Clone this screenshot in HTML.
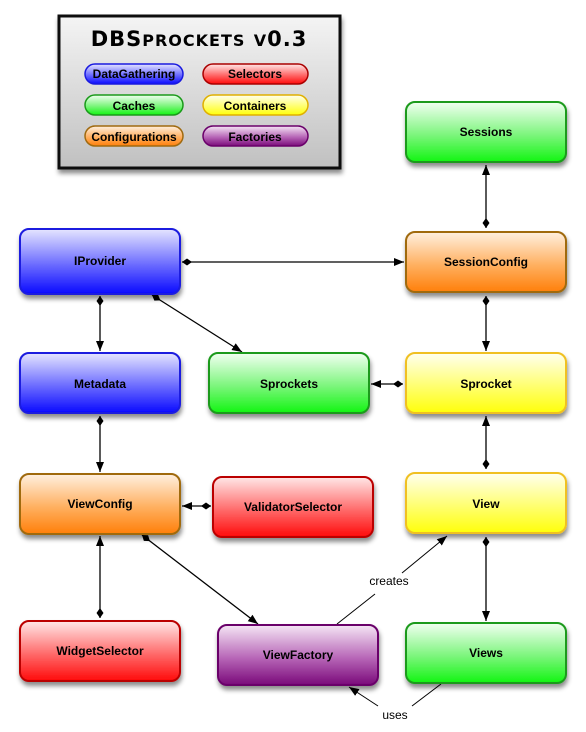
<!DOCTYPE html>
<html><head><meta charset="utf-8"><style>
html,body{margin:0;padding:0;background:#fff;}
svg{display:block;font-family:"Liberation Sans",Arial,sans-serif;}
</style></head><body>
<svg width="586" height="732" viewBox="0 0 586 732" xmlns="http://www.w3.org/2000/svg">
<defs>
<linearGradient id="gb" x1="0" y1="0" x2="0" y2="1"><stop offset="0" stop-color="#e6e6ff"/><stop offset="0.55" stop-color="#6b6bff"/><stop offset="1" stop-color="#0a0aff"/></linearGradient>
<linearGradient id="gg" x1="0" y1="0" x2="0" y2="1"><stop offset="0" stop-color="#f2fff2"/><stop offset="0.55" stop-color="#7cf57c"/><stop offset="1" stop-color="#12f512"/></linearGradient>
<linearGradient id="go" x1="0" y1="0" x2="0" y2="1"><stop offset="0" stop-color="#fff0e0"/><stop offset="0.55" stop-color="#ffb060"/><stop offset="1" stop-color="#ff7f0a"/></linearGradient>
<linearGradient id="gr" x1="0" y1="0" x2="0" y2="1"><stop offset="0" stop-color="#ffe8e8"/><stop offset="0.55" stop-color="#ff6a6a"/><stop offset="1" stop-color="#ff0a0a"/></linearGradient>
<linearGradient id="gy" x1="0" y1="0" x2="0" y2="1"><stop offset="0" stop-color="#fffff0"/><stop offset="0.55" stop-color="#ffff70"/><stop offset="1" stop-color="#ffff0a"/></linearGradient>
<linearGradient id="gp" x1="0" y1="0" x2="0" y2="1"><stop offset="0" stop-color="#f5e6f5"/><stop offset="0.55" stop-color="#b766b7"/><stop offset="1" stop-color="#7a0a7a"/></linearGradient>
<linearGradient id="gl" x1="0" y1="0" x2="0" y2="1"><stop offset="0" stop-color="#f4f4f4"/><stop offset="1" stop-color="#c0c0c0"/></linearGradient>
<filter id="sh" x="-10%" y="-10%" width="130%" height="140%"><feDropShadow dx="1" dy="4" stdDeviation="2.5" flood-color="#000" flood-opacity="0.45"/></filter>
<marker id="ar" viewBox="0 0 10 10" refX="10" refY="5" markerWidth="10" markerHeight="10" markerUnits="userSpaceOnUse" orient="auto"><path d="M0,1 L10,5 L0,9 Z" fill="#000"/></marker>
<marker id="dm" viewBox="0 0 10 10" refX="0" refY="5" markerWidth="10" markerHeight="10" markerUnits="userSpaceOnUse" orient="auto"><path d="M0,5 L5,1.5 L10,5 L5,8.5 Z" fill="#000"/></marker>
</defs>

<rect x="59" y="16" width="281" height="152" fill="url(#gl)" stroke="#111" stroke-width="3" filter="url(#sh)"/>
<text x="199" y="46" text-anchor="middle" font-size="21" font-weight="bold" font-family="'DejaVu Sans',sans-serif" letter-spacing="1">DBS<tspan font-size="16">PROCKETS</tspan> <tspan font-size="16">V</tspan>0.3</text>
<g font-size="12" text-anchor="middle" font-weight="bold">
<rect x="85" y="64" width="98" height="20" rx="10" fill="url(#gb)" stroke="#1a1adf" stroke-width="1.5"/><text x="134" y="78">DataGathering</text>
<rect x="203" y="64" width="105" height="20" rx="10" fill="url(#gr)" stroke="#a00" stroke-width="1.5"/><text x="255" y="78">Selectors</text>
<rect x="85" y="95" width="98" height="20" rx="10" fill="url(#gg)" stroke="#1a9a1a" stroke-width="1.5"/><text x="134" y="110">Caches</text>
<rect x="203" y="95" width="105" height="20" rx="10" fill="url(#gy)" stroke="#e0b000" stroke-width="1.5"/><text x="255" y="110">Containers</text>
<rect x="85" y="126" width="98" height="20" rx="10" fill="url(#go)" stroke="#a06a10" stroke-width="1.5"/><text x="134" y="141">Configurations</text>
<rect x="203" y="126" width="105" height="20" rx="10" fill="url(#gp)" stroke="#6a006a" stroke-width="1.5"/><text x="255" y="141">Factories</text>
</g>

<g stroke="#000" stroke-width="1.3" fill="none" marker-start="url(#dm)" marker-end="url(#ar)">
<line x1="182" y1="262" x2="404" y2="262"/>
<line x1="486" y1="228" x2="486" y2="165"/>
<line x1="486" y1="296" x2="486" y2="351"/>
<line x1="403" y1="384" x2="371" y2="384"/>
<line x1="486" y1="469" x2="486" y2="416"/>
<line x1="486" y1="537" x2="486" y2="621"/>
<line x1="100" y1="296" x2="100" y2="351"/>
<line x1="152" y1="295" x2="242" y2="352"/>
<line x1="100" y1="416" x2="100" y2="472"/>
<line x1="211" y1="506" x2="182" y2="506"/>
<line x1="100" y1="618" x2="100" y2="536"/>
<line x1="142" y1="535" x2="258" y2="624"/>
</g>
<g stroke="#000" stroke-width="1" fill="none">
<line x1="337" y1="624" x2="375" y2="594"/>
<line x1="402" y1="573" x2="447" y2="536" marker-end="url(#ar)"/>
<line x1="441" y1="684" x2="412" y2="706"/>
<line x1="378" y1="706" x2="349" y2="687" marker-end="url(#ar)"/>
</g>
<text x="389" y="585" font-size="12" text-anchor="middle">creates</text>
<text x="395" y="719" font-size="12" text-anchor="middle">uses</text>

<g font-size="12" font-weight="bold" text-anchor="middle" stroke-width="2">
<rect x="406" y="102" width="160" height="60" rx="9" fill="url(#gg)" stroke="#1a9a1a" filter="url(#sh)"/><text x="486" y="136" stroke="none">Sessions</text>
<rect x="20" y="229" width="160" height="65" rx="9" fill="url(#gb)" stroke="#1a1adf" filter="url(#sh)"/><text x="100" y="265" stroke="none">IProvider</text>
<rect x="406" y="232" width="160" height="60" rx="9" fill="url(#go)" stroke="#a06a10" filter="url(#sh)"/><text x="486" y="266" stroke="none">SessionConfig</text>
<rect x="20" y="353" width="160" height="60" rx="9" fill="url(#gb)" stroke="#1a1adf" filter="url(#sh)"/><text x="100" y="388" stroke="none">Metadata</text>
<rect x="209" y="353" width="160" height="60" rx="9" fill="url(#gg)" stroke="#1a9a1a" filter="url(#sh)"/><text x="289" y="388" stroke="none">Sprockets</text>
<rect x="406" y="353" width="160" height="60" rx="9" fill="url(#gy)" stroke="#f0c020" filter="url(#sh)"/><text x="486" y="388" stroke="none">Sprocket</text>
<rect x="20" y="474" width="160" height="60" rx="9" fill="url(#go)" stroke="#a06a10" filter="url(#sh)"/><text x="100" y="508" stroke="none">ViewConfig</text>
<rect x="213" y="477" width="160" height="60" rx="9" fill="url(#gr)" stroke="#b00" filter="url(#sh)"/><text x="293" y="511" stroke="none">ValidatorSelector</text>
<rect x="406" y="473" width="160" height="60" rx="9" fill="url(#gy)" stroke="#f0c020" filter="url(#sh)"/><text x="486" y="508" stroke="none">View</text>
<rect x="20" y="621" width="160" height="60" rx="9" fill="url(#gr)" stroke="#b00" filter="url(#sh)"/><text x="100" y="655" stroke="none">WidgetSelector</text>
<rect x="218" y="625" width="160" height="60" rx="9" fill="url(#gp)" stroke="#6a006a" filter="url(#sh)"/><text x="298" y="659" stroke="none">ViewFactory</text>
<rect x="406" y="623" width="160" height="60" rx="9" fill="url(#gg)" stroke="#1a9a1a" filter="url(#sh)"/><text x="486" y="657" stroke="none">Views</text>
</g>
</svg>
</body></html>
